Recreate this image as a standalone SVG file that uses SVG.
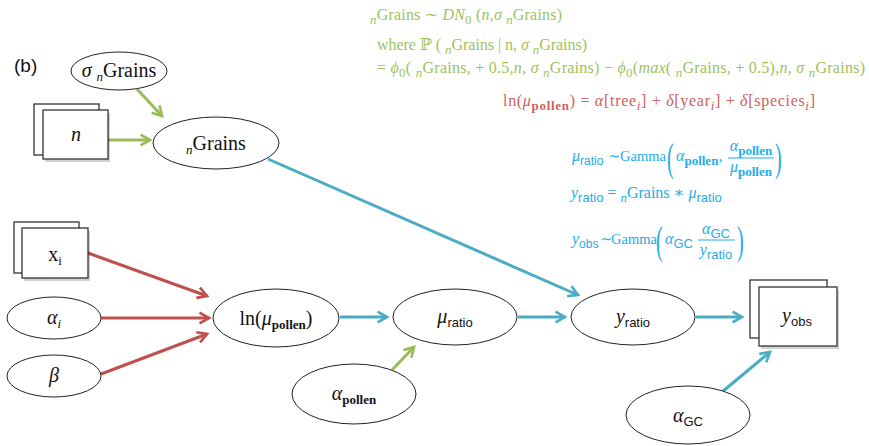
<svg xmlns="http://www.w3.org/2000/svg" width="869" height="446" viewBox="0 0 869 446">
<style>
.node{fill:#fff;stroke:#222;stroke-width:1}
.box{fill:#fff;stroke:#333;stroke-width:1.3}
.shadow{fill:#000;opacity:0.18}
.lbl{font-family:"Liberation Serif","DejaVu Serif",serif;font-size:20px;fill:#111;text-anchor:middle}
.it{font-style:italic}
.sub{font-size:13px}
.sans{font-family:"Liberation Sans","DejaVu Sans",sans-serif}
.eq{font-family:"Liberation Serif","DejaVu Serif",serif;font-size:16px}
.eqs{font-size:14.5px}
.sm{font-size:12px}
.big{font-size:40px}
.g{fill:#9BC35D}
.r{fill:#D0605C}
.b{fill:#1EADE6}
.cg{stroke:#9BBB59;stroke-width:3;fill:none;marker-end:url(#ag)}
.cr{stroke:#C0504D;stroke-width:3;fill:none;marker-end:url(#ar)}
.cb{stroke:#4BACC6;stroke-width:3;fill:none;marker-end:url(#ab)}
</style>
<defs>
<marker id="ag" viewBox="0 0 10 10" refX="8" refY="5" markerWidth="4.5" markerHeight="4.5" orient="auto" markerUnits="strokeWidth"><path d="M1,1 L8,5 L1,9" fill="none" stroke="#9BBB59" stroke-width="2"/></marker>
<marker id="ar" viewBox="0 0 10 10" refX="8" refY="5" markerWidth="4.5" markerHeight="4.5" orient="auto" markerUnits="strokeWidth"><path d="M1,1 L8,5 L1,9" fill="none" stroke="#C0504D" stroke-width="2"/></marker>
<marker id="ab" viewBox="0 0 10 10" refX="8" refY="5" markerWidth="4.5" markerHeight="4.5" orient="auto" markerUnits="strokeWidth"><path d="M1,1 L8,5 L1,9" fill="none" stroke="#4BACC6" stroke-width="2"/></marker>
</defs>
<rect width="869" height="446" fill="#fff"/>

<text x="14" y="72" font-family="'Liberation Sans',Arial,sans-serif" font-size="19" fill="#111">(b)</text>

<g id="connectors">
<line class="cg" x1="137" y1="89" x2="162" y2="116"/>
<line class="cg" x1="108" y1="140" x2="150" y2="140"/>
<line class="cb" x1="268" y1="159" x2="578" y2="295"/>
<line class="cr" x1="88" y1="253" x2="207" y2="296"/>
<line class="cr" x1="101" y1="318" x2="209" y2="318"/>
<line class="cr" x1="101" y1="374" x2="207" y2="334"/>
<line class="cb" x1="340" y1="317" x2="387" y2="317"/>
<line class="cg" x1="392" y1="370" x2="414" y2="347"/>
<line class="cb" x1="518" y1="317" x2="565" y2="317"/>
<line class="cb" x1="696" y1="317" x2="742" y2="317"/>
<line class="cb" x1="722" y1="392" x2="770" y2="352"/>
</g>

<g id="sigma-nGrains">
<ellipse class="node" cx="119" cy="71" rx="48" ry="19"/>
<text class="lbl" x="119" y="77"><tspan class="it">σ</tspan> <tspan class="it sub" dy="4">n</tspan><tspan dy="-4">Grains</tspan></text>
</g>

<g id="n">
<rect class="box" x="34" y="104" width="65" height="51"/>
<rect class="shadow" x="45" y="113" width="65" height="49"/>
<rect class="box" x="43" y="110" width="65" height="49"/>
<text class="lbl it" x="76" y="141">n</text>
</g>

<g id="nGrains">
<ellipse class="node" cx="216" cy="143" rx="63" ry="26"/>
<text class="lbl" x="216" y="150"><tspan class="it sub" dy="4">n</tspan><tspan dy="-4">Grains</tspan></text>
</g>

<g id="x_i">
<rect class="box" x="14" y="222" width="65" height="51"/>
<rect class="shadow" x="24" y="231" width="66" height="50"/>
<rect class="box" x="22" y="228" width="66" height="50"/>
<text class="lbl" x="55" y="261">x<tspan class="sub" dy="4">i</tspan></text>
</g>

<g id="alpha_i">
<ellipse class="node" cx="54" cy="318" rx="47" ry="21"/>
<text class="lbl" x="54" y="324"><tspan class="it">α</tspan><tspan class="it sub" dy="4">i</tspan></text>
</g>

<g id="beta">
<ellipse class="node" cx="54" cy="376" rx="47" ry="21"/>
<text class="lbl it" x="54" y="382">β</text>
</g>

<g id="ln_mu_pollen">
<ellipse class="node" cx="276" cy="318" rx="63" ry="29"/>
<text class="lbl" x="276" y="325">ln(<tspan class="it">μ</tspan><tspan class="sub" dy="4" font-weight="bold">pollen</tspan><tspan dy="-4">)</tspan></text>
</g>

<g id="mu_ratio">
<ellipse class="node" cx="455" cy="317" rx="62" ry="28"/>
<text class="lbl" x="455" y="323"><tspan class="it">μ</tspan><tspan class="sub sans" dy="4">ratio</tspan></text>
</g>

<g id="alpha_pollen">
<ellipse class="node" cx="354" cy="394" rx="62" ry="30"/>
<text class="lbl" x="354" y="400"><tspan class="it">α</tspan><tspan class="sub" dy="4" font-weight="bold">pollen</tspan></text>
</g>

<g id="y_ratio">
<ellipse class="node" cx="633" cy="317" rx="62" ry="28"/>
<text class="lbl" x="633" y="323"><tspan class="it">y</tspan><tspan class="sub sans" dy="4">ratio</tspan></text>
</g>

<g id="y_obs">
<rect class="box" x="750" y="280" width="77" height="58"/>
<rect class="shadow" x="761" y="290" width="78" height="59"/>
<rect class="box" x="759" y="287" width="78" height="59"/>
<text class="lbl" x="797" y="322"><tspan class="it">y</tspan><tspan class="sub sans" dy="4">obs</tspan></text>
</g>

<g id="alpha_GC">
<ellipse class="node" cx="688" cy="415" rx="62" ry="29"/>
<text class="lbl" x="688" y="422"><tspan class="it">α</tspan><tspan class="sub sans" dy="4">GC</tspan></text>
</g>

<g id="equations">
<text class="eq g" x="370" y="20" textLength="192" lengthAdjust="spacing"><tspan class="it sub" dy="4">n</tspan><tspan dy="-4">Grains ∼ </tspan><tspan class="it">DN</tspan><tspan class="sub" dy="4">0</tspan><tspan dy="-4"> (</tspan><tspan class="it">n</tspan>,<tspan class="it">σ</tspan> <tspan class="it sub" dy="4">n</tspan><tspan dy="-4">Grains)</tspan></text>
<text class="eq g" x="377" y="50" textLength="210" lengthAdjust="spacing">where ℙ ( <tspan class="it sub" dy="4">n</tspan><tspan dy="-4">Grains | n,  </tspan><tspan class="it">σ</tspan> <tspan class="it sub" dy="4">n</tspan><tspan dy="-4">Grains)</tspan></text>
<text class="eq g" x="377" y="73" textLength="488" lengthAdjust="spacing">=  <tspan class="it">ϕ</tspan><tspan class="sub" dy="4">0</tspan><tspan dy="-4">( </tspan><tspan class="it sub" dy="4">n</tspan><tspan dy="-4">Grains, + 0.5,</tspan><tspan class="it">n</tspan>, <tspan class="it">σ</tspan> <tspan class="it sub" dy="4">n</tspan><tspan dy="-4">Grains)  −  </tspan><tspan class="it">ϕ</tspan><tspan class="sub" dy="4">0</tspan><tspan dy="-4">(</tspan><tspan class="it">max</tspan>( <tspan class="it sub" dy="4">n</tspan><tspan dy="-4">Grains, + 0.5),</tspan><tspan class="it">n</tspan>, <tspan class="it">σ</tspan> <tspan class="it sub" dy="4">n</tspan><tspan dy="-4">Grains)</tspan></text>
<text class="eq r" x="503" y="106" textLength="312" lengthAdjust="spacing">ln(<tspan class="it">μ</tspan><tspan class="sub" dy="4" font-weight="bold">pollen</tspan><tspan dy="-4">) =  </tspan><tspan class="it">α</tspan>[tree<tspan class="it sub" dy="4">i</tspan><tspan dy="-4">]  +  </tspan><tspan class="it">δ</tspan>[year<tspan class="it sub" dy="4">i</tspan><tspan dy="-4">]  +  </tspan><tspan class="it">δ</tspan>[species<tspan class="it sub" dy="4">i</tspan><tspan dy="-4">]</tspan></text>

<text class="eq b" x="572" y="161"><tspan class="it">μ</tspan><tspan class="sans sm" dy="4">ratio</tspan></text>
<text class="eq eqs b" x="608" y="161">∼</text>
<text class="eq eqs b" x="620" y="161">Gamma</text>
<text class="eq b big" x="667" y="171" transform="translate(667 171) scale(0.5 1) translate(-667 -171)">(</text>
<text class="eq b" x="676" y="161"><tspan class="it">α</tspan><tspan class="sub" dy="4" font-weight="bold">pollen</tspan><tspan dy="-4">,</tspan></text>
<text class="eq b" x="751" y="151" text-anchor="middle"><tspan class="it">α</tspan><tspan class="sub" dy="4" font-weight="bold">pollen</tspan></text>
<line x1="728" y1="158" x2="774" y2="158" stroke="#1EADE6" stroke-width="1"/>
<text class="eq b" x="751" y="172" text-anchor="middle"><tspan class="it">μ</tspan><tspan class="sub" dy="4" font-weight="bold">pollen</tspan></text>
<text class="eq b big" x="775" y="171" transform="translate(775 171) scale(0.5 1) translate(-775 -171)">)</text>

<text class="eq b" x="571" y="198"><tspan class="it">y</tspan><tspan class="sub sans" dy="4">ratio</tspan><tspan dy="-4"> =  </tspan><tspan class="it sub" dy="4">n</tspan><tspan dy="-4">Grains  ∗  </tspan><tspan class="it">μ</tspan><tspan class="sub sans" dy="4">ratio</tspan></text>

<text class="eq b" x="572" y="244"><tspan class="it">y</tspan><tspan class="sans sm" dy="4">obs</tspan></text>
<text class="eq eqs b" x="600" y="244">∼</text>
<text class="eq eqs b" x="611" y="244">Gamma</text>
<text class="eq b big" x="656" y="254" transform="translate(656 254) scale(0.5 1) translate(-656 -254)">(</text>
<text class="eq b" x="665" y="244"><tspan class="it">α</tspan><tspan class="sub sans" dy="4">GC</tspan></text>
<text class="eq b" x="716" y="234" text-anchor="middle"><tspan class="it">α</tspan><tspan class="sub sans" dy="4">GC</tspan></text>
<line x1="698" y1="240" x2="735" y2="240" stroke="#1EADE6" stroke-width="1"/>
<text class="eq b" x="716" y="255" text-anchor="middle"><tspan class="it">y</tspan><tspan class="sub sans" dy="4">ratio</tspan></text>
<text class="eq b big" x="737" y="254" transform="translate(737 254) scale(0.5 1) translate(-737 -254)">)</text>
</g>
</svg>
